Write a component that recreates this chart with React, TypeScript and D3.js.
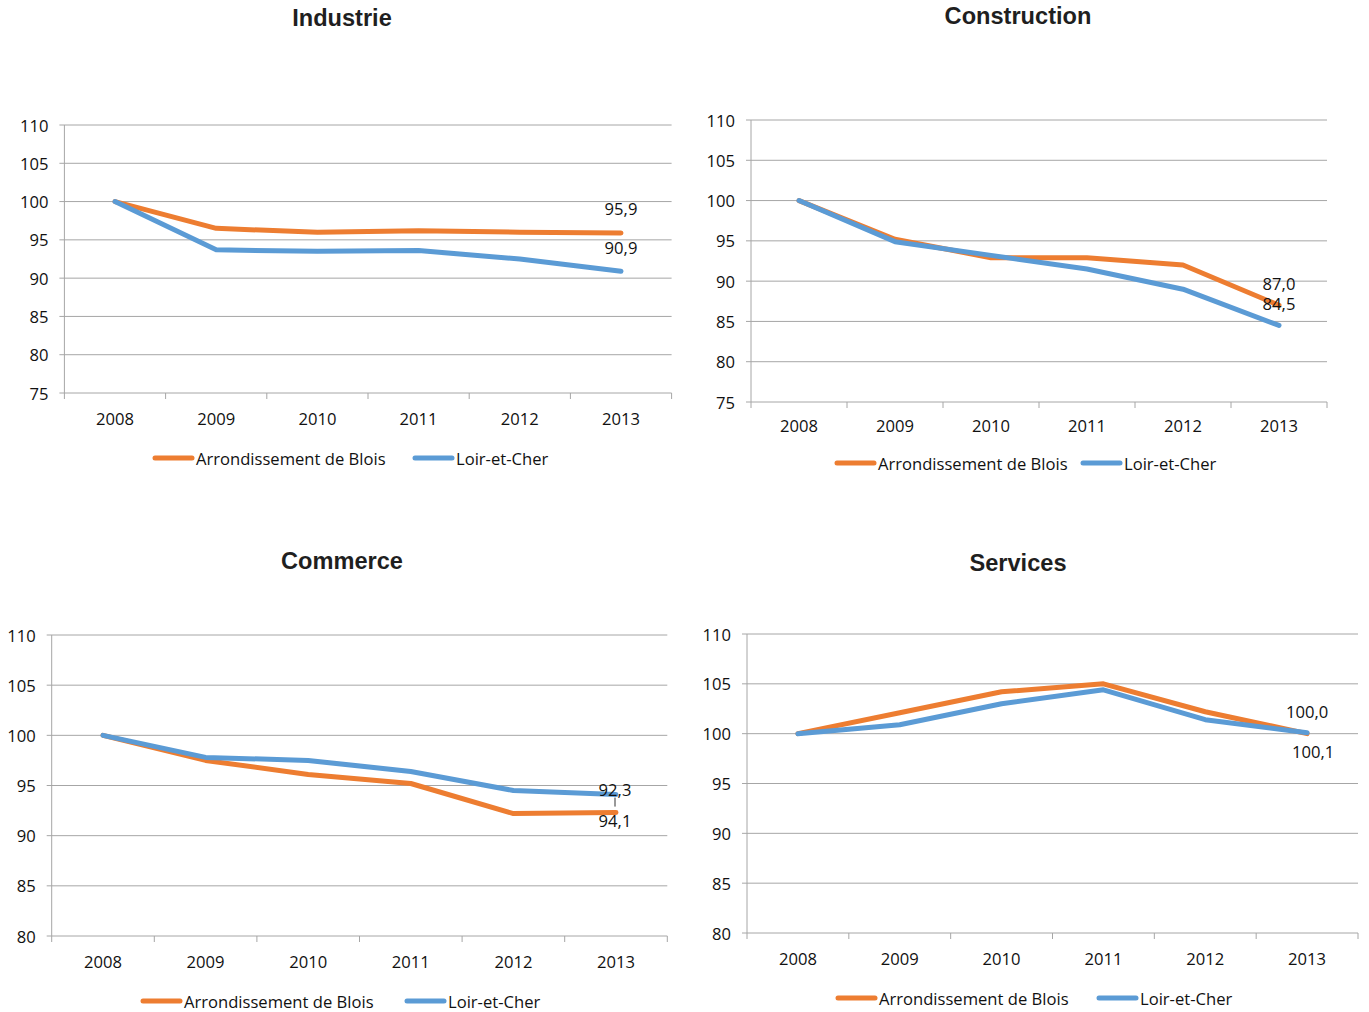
import React from "react";
import * as d3 from "d3";

const years = ["2008", "2009", "2010", "2011", "2012", "2013"];
const seriesNames = ["Arrondissement de Blois", "Loir-et-Cher"];

const industrieBlois = [100, 96.5, 96.0, 96.2, 96.0, 95.9];
const industrieLoir = [100, 93.7, 93.5, 93.6, 92.5, 90.9];
const constructionBlois = [100, 95.2, 92.9, 92.9, 92.0, 87.0];
const constructionLoir = [100, 94.9, 93.2, 91.5, 89.0, 84.5];
const commerceBlois = [100, 97.5, 96.1, 95.2, 92.2, 92.3];
const commerceLoir = [100, 97.8, 97.5, 96.4, 94.5, 94.1];
const servicesBlois = [100, 102.1, 104.2, 105.0, 102.2, 100.0];
const servicesLoir = [100, 100.9, 103.0, 104.4, 101.4, 100.1];

const ticksA = [75, 80, 85, 90, 95, 100, 105, 110];
const ticksB = [80, 85, 90, 95, 100, 105, 110];

const titles = ["Industrie", "Construction", "Commerce", "Services"];

const COLORS = ["#ED7D31", "#5B9BD5"];
const GRID = "#a6a6a6";
const FONT = "'Open Sans', 'Liberation Sans', sans-serif";
const FS = 16.6;

type Panel = {
  title: string;
  blois: number[];
  loir: number[];
  ticks: number[];
  layout: {
    left: number; right: number; top: number; bottom: number; xLabelDy: number;
    titleX: number; titleY: number; legendY: number; legendX: [number, number];
    labelDy: [number, number]; labelDx: [number, number]; leader?: boolean;
  };
};

const panels: Panel[] = [
  {
    title: titles[0], blois: industrieBlois, loir: industrieLoir, ticks: ticksA,
    layout: { left: 64.4, right: 671.6, top: 125, bottom: 393, xLabelDy: 25, titleX: 342, titleY: 18, legendY: 458, legendX: [155, 415], labelDy: [-24, -24], labelDx: [0, 0] },
  },
  {
    title: titles[1], blois: constructionBlois, loir: constructionLoir, ticks: ticksA,
    layout: { left: 751, right: 1327, top: 120, bottom: 402, xLabelDy: 23, titleX: 1018, titleY: 16, legendY: 463, legendX: [837, 1083], labelDy: [-22, -22], labelDx: [0, 0] },
  },
  {
    title: titles[2], blois: commerceBlois, loir: commerceLoir, ticks: ticksB,
    layout: { left: 51.7, right: 667.3, top: 635, bottom: 936, xLabelDy: 25, titleX: 342, titleY: 561, legendY: 1001, legendX: [143, 407], labelDy: [-23, 26], labelDx: [-1, -1], leader: true },
  },
  {
    title: titles[3], blois: servicesBlois, loir: servicesLoir, ticks: ticksB,
    layout: { left: 747, right: 1358, top: 634, bottom: 933, xLabelDy: 25, titleX: 1018, titleY: 563, legendY: 998, legendX: [838, 1099], labelDy: [-22, 19], labelDx: [0, 6] },
  },
];

const fmt = (v: number) => v.toFixed(1).replace(".", ",");

function ChartPanel({ p }: { p: Panel }) {
  const L = p.layout;
  const x = d3.scaleBand<string>().domain(years).range([L.left, L.right]);
  const y = d3.scaleLinear().domain([d3.min(p.ticks)!, d3.max(p.ticks)!]).range([L.bottom, L.top]);
  const cx = (yr: string) => (x(yr) as number) + x.bandwidth() / 2;
  const line = d3.line<number>().x((_, i) => cx(years[i])).y((d) => y(d));
  const series = [p.blois, p.loir];
  const boundaries = years.map((yr) => x(yr) as number).concat([L.right]);
  const last = years.length - 1;

  return (
    <g>
      <text x={L.titleX} y={L.titleY} textAnchor="middle" dominantBaseline="central"
        fontFamily="'Liberation Sans', Arial, sans-serif" fontWeight="bold" fontSize={23.6} fill="#1f1f1f">
        {p.title}
      </text>
      {p.ticks.map((t) => (
        <g key={t}>
          <line x1={L.left - 5} x2={L.right} y1={y(t)} y2={y(t)} stroke={GRID} strokeWidth={1} />
          <text x={L.left - 16} y={y(t)} textAnchor="end" dominantBaseline="central" fontFamily={FONT} fontSize={FS} fill="#111">
            {t}
          </text>
        </g>
      ))}
      <line x1={L.left} x2={L.left} y1={L.top} y2={L.bottom} stroke={GRID} strokeWidth={1} />
      {boundaries.map((bx, i) => (
        <line key={i} x1={bx} x2={bx} y1={L.bottom} y2={L.bottom + 6} stroke={GRID} strokeWidth={1} />
      ))}
      {years.map((yr) => (
        <text key={yr} x={cx(yr)} y={L.bottom + L.xLabelDy} textAnchor="middle" dominantBaseline="central" fontFamily={FONT} fontSize={FS} fill="#111">
          {yr}
        </text>
      ))}
      {series.map((s, si) => (
        <path key={si} d={line(s) || ""} fill="none" stroke={COLORS[si]} strokeWidth={5} strokeLinecap="round" strokeLinejoin="round" />
      ))}
      {series.map((s, si) => (
        <text key={"l" + si} x={cx(years[last]) + L.labelDx[si]} y={y(s[last]) + L.labelDy[si]} textAnchor="middle" dominantBaseline="central"
          fontFamily={FONT} fontSize={FS} fill="#111">
          {fmt(s[last])}
        </text>
      ))}
      {L.leader && (
        <line x1={cx(years[last]) - 1} x2={cx(years[last]) - 1} y1={y(p.blois[last]) + L.labelDy[0] + 8} y2={y(p.blois[last]) - 6}
          stroke="#333" strokeWidth={1} />
      )}
      {seriesNames.map((n, si) => (
        <g key={n}>
          <line x1={L.legendX[si]} x2={L.legendX[si] + 37} y1={L.legendY} y2={L.legendY} stroke={COLORS[si]} strokeWidth={5} strokeLinecap="round" />
          <text x={L.legendX[si] + 41} y={L.legendY} dominantBaseline="central" fontFamily={FONT} fontSize={FS} fill="#111">
            {n}
          </text>
        </g>
      ))}
    </g>
  );
}

export default function App() {
  return (
    <svg width={1369} height={1012} style={{ position: "absolute", left: 0, top: 0, background: "#fff" }}>
      <rect width={1369} height={1012} fill="#fff" />
      {panels.map((p) => (
        <ChartPanel key={p.title} p={p} />
      ))}
    </svg>
  );
}
